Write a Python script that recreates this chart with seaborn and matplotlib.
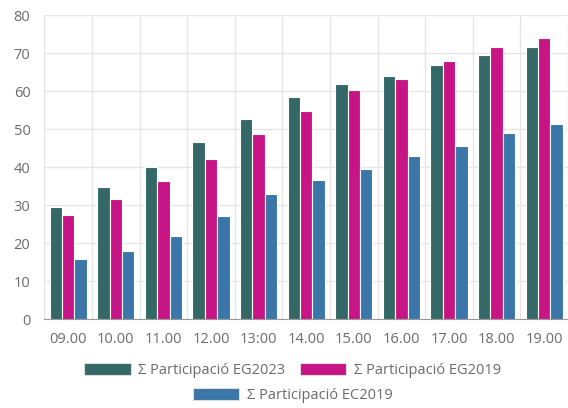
import pandas as pd
import matplotlib.pyplot as plt
import seaborn as sns
import numpy as np
from matplotlib.patches import Patch

# -------------------------------
# Data
# -------------------------------
hores = ["09.00", "10.00", "11.00", "12.00", "13:00", "14.00",
         "15.00", "16.00", "17.00", "18.00", "19.00"]
eg2023 = [29.4, 34.7, 40.1, 46.5, 52.7, 58.4, 61.8, 63.9, 66.8, 69.6, 71.7]
eg2019 = [27.3, 31.5, 36.4, 42.1, 48.6, 54.7, 60.3, 63.1, 68.0, 71.7, 74.0]
ec2019 = [15.7, 17.8, 21.8, 27.0, 32.9, 36.7, 39.6, 43.0, 45.6, 48.9, 51.3]

series = ["Σ Participació EG2023", "Σ Participació EG2019", "Σ Participació EC2019"]
colors = ["#336867", "#c71585", "#3a76a8"]

df = pd.DataFrame({
    "hora": hores * 3,
    "valor": eg2023 + eg2019 + ec2019,
    "serie": [series[0]] * 11 + [series[1]] * 11 + [series[2]] * 11,
})

# -------------------------------
# Plot
# -------------------------------
sns.set_style("white")
plt.rcParams['font.family'] = ['Open Sans', 'DejaVu Sans']
text_color = "#6b6b6b"
grid_color = "#e6e6e6"

fig = plt.figure(figsize=(5.68, 4.08), dpi=100)
ax = fig.add_axes([0.078, 0.218, 0.922, 0.745])

sns.barplot(
    data=df, x="hora", y="valor", hue="serie",
    palette=colors, saturation=1, width=0.78, edgecolor="white", linewidth=0.8,
    ax=ax, legend=False, zorder=3
)

ax.set_ylim(0, 80)
ax.set_xlim(-0.5, len(hores) - 0.5)
ax.set_yticks(np.arange(0, 81, 10))
ax.set_xlabel("")
ax.set_ylabel("")

# grid: horizontal at y ticks, vertical at category boundaries
ax.set_xticks(np.arange(-0.5, len(hores), 1), minor=True)
ax.grid(axis="y", color=grid_color, linewidth=1, zorder=0)
ax.grid(axis="x", which="minor", color=grid_color, linewidth=1, zorder=0)
ax.grid(axis="x", which="major", visible=False)
for s in ["top", "right", "left"]:
    ax.spines[s].set_visible(False)
ax.spines["bottom"].set_color("#999999")
ax.tick_params(axis="x", which="major", length=0, pad=9, labelsize=10.5, labelcolor=text_color)
ax.tick_params(axis="x", which="minor", length=10, color=grid_color, width=1)
ax.tick_params(axis="y", length=0, pad=10, labelsize=10.5, labelcolor=text_color)

# legend: two rows, centred
handles = [Patch(facecolor=c, edgecolor="#dddddd", linewidth=0.8) for c in colors]
fig.legend(handles[:2], series[:2], loc="center", bbox_to_anchor=(0.515, 0.092),
           ncol=2, frameon=False, fontsize=10.5, labelcolor=text_color,
           handlelength=3.2, handleheight=0.85, handletextpad=0.5, columnspacing=1.0)
fig.legend(handles[2:], series[2:], loc="center", bbox_to_anchor=(0.515, 0.03),
           frameon=False, fontsize=10.5, labelcolor=text_color,
           handlelength=3.2, handleheight=0.85, handletextpad=0.5)

plt.savefig("out.png", dpi=100)
plt.close()
